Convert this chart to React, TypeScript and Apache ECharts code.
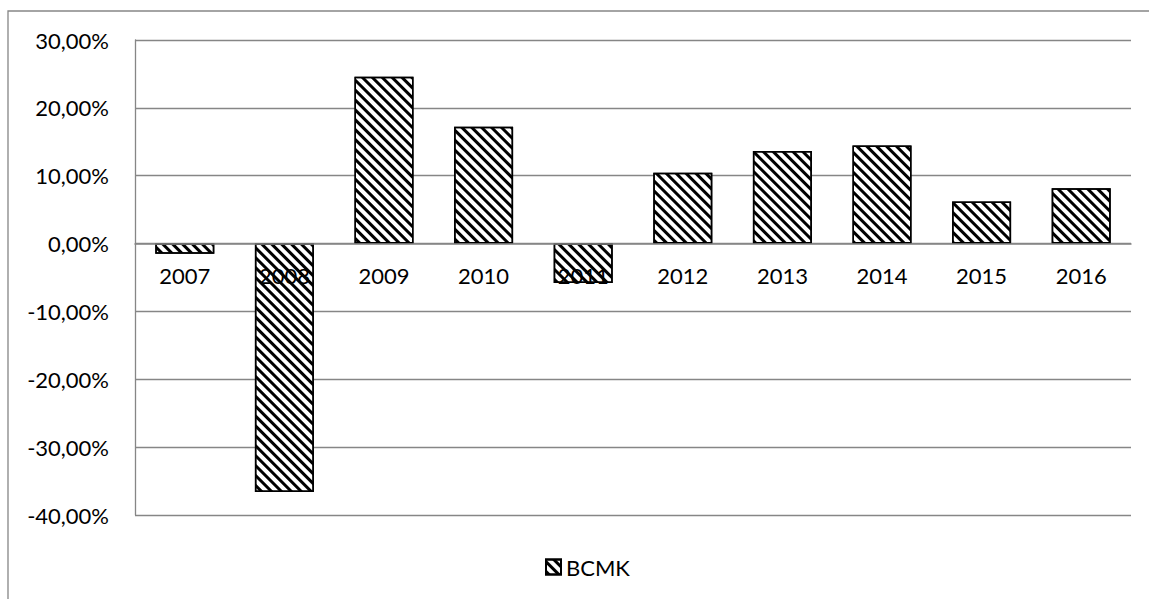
import React, { useEffect, useRef } from "react";
import * as echarts from "echarts";

const categories = ["2007", "2008", "2009", "2010", "2011", "2012", "2013", "2014", "2015", "2016"];
const values = [-1.5, -36.6, 24.6, 17.2, -5.8, 10.45, 13.65, 14.45, 6.2, 8.15];
const seriesName = "BCMK";
const yMin = -40;
const yMax = 30;
const yInterval = 10;

const FONT = "Lato";
const GRAY = "#868686";
const GRID_TOP = 40;
const GRID_BOTTOM = 84;
const H = 599;

export default function App() {
  const ref = useRef<HTMLDivElement>(null);
  useEffect(() => {
    if (!ref.current) return;
    const chart = echarts.init(ref.current, null, { renderer: "svg" });
    const plotH = H - GRID_TOP - GRID_BOTTOM;
    const zeroOffset = -(plotH * (0 - yMin)) / (yMax - yMin);
    chart.setOption({
      animation: false,
      backgroundColor: "#ffffff",
      textStyle: { fontFamily: FONT },
      grid: { left: 135, right: 18, top: GRID_TOP, bottom: GRID_BOTTOM, containLabel: false },
      graphic: [
        {
          type: "rect",
          shape: { x: 8, y: 11, width: 1300, height: 800 },
          style: { fill: "none", stroke: GRAY, lineWidth: 1.3 },
          silent: true,
          z: -1,
        },
      ],
      legend: {
        left: 540,
        top: 551,
        icon: "rect",
        itemWidth: 15,
        itemHeight: 15,
        itemGap: 4,
        textStyle: { fontFamily: FONT, fontSize: 22, color: "#000" },
        data: [seriesName],
      },
      xAxis: {
        type: "category",
        data: categories,
        z: 5,
        offset: zeroOffset,
        axisLine: { onZero: false, lineStyle: { color: GRAY, width: 1.5 } },
        axisTick: { show: false },
        axisLabel: { margin: 21, fontFamily: FONT, fontSize: 22, color: "#000" },
        splitLine: { show: false },
      },
      yAxis: {
        type: "value",
        min: yMin,
        max: yMax,
        interval: yInterval,
        axisLine: { show: true, lineStyle: { color: GRAY, width: 1.3 } },
        axisTick: { show: false },
        axisLabel: {
          margin: 26,
          fontFamily: FONT,
          fontSize: 22,
          color: "#000",
          formatter: (v: number) => v.toFixed(2).replace(".", ",") + "%",
        },
        splitLine: { show: true, lineStyle: { color: GRAY, width: 1.3 } },
      },
      series: [
        {
          name: seriesName,
          type: "bar",
          data: values,
          barWidth: 59,
          itemStyle: {
            color: "#ffffff",
            borderColor: "#000000",
            borderWidth: 1.5,
            decal: {
              symbol: "rect",
              symbolSize: 1,
              color: "#000000",
              dashArrayX: [1, 0],
              dashArrayY: [3, 4],
              rotation: Math.PI / 4,
            },
          },
        },
      ],
    });
    return () => chart.dispose();
  }, []);
  return (
    <div
      ref={ref}
      style={{ position: "fixed", left: 0, top: 0, width: 1149, height: 599 }}
    />
  );
}
